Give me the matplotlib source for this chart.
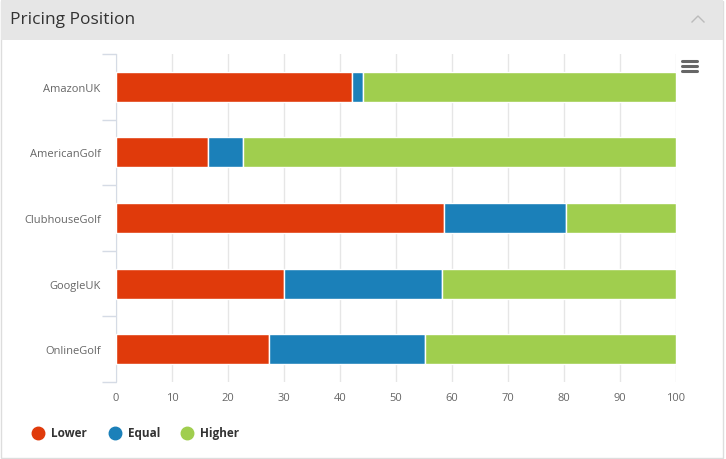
import matplotlib
matplotlib.use("Agg")
import matplotlib.pyplot as plt
from matplotlib.patches import Rectangle
from matplotlib.lines import Line2D

categories = ["AmazonUK", "AmericanGolf", "ClubhouseGolf", "GoogleUK", "OnlineGolf"]
lower = [42.1, 16.4, 58.6, 30.0, 27.3]
equal = [2.0, 6.3, 21.8, 28.2, 27.9]
higher = [55.9, 77.3, 19.6, 41.8, 44.8]
series_names = ["Lower", "Equal", "Higher"]
colors = ["#e03a0b", "#1b80b9", "#a0ce4e"]
xticks = [0, 10, 20, 30, 40, 50, 60, 70, 80, 90, 100]
title = "Pricing Position"

W, H = 726, 460
fig = plt.figure(figsize=(W / 100, H / 100), dpi=100)
fig.patch.set_facecolor("white")

# panel border and header band
fig.patches.append(Rectangle((1 / W, 1 / H), 722 / W, 457 / H, transform=fig.transFigure,
                             facecolor="white", edgecolor="#dddddd", linewidth=1, zorder=-10))
fig.patches.append(Rectangle((1 / W, (H - 41) / H), 722 / W, 40 / H, transform=fig.transFigure,
                             facecolor="#e6e6e6", edgecolor="none", zorder=-9))
fig.text(10 / W, 1 - 20 / H, title, fontsize=12.5, family="Open Sans", color="#333333",
         va="center", ha="left")
# chevron
fig.add_artist(Line2D([692 / W, 698 / W, 704 / W], [1 - 23 / H, 1 - 17 / H, 1 - 23 / H],
                      color="#bbbbbb", linewidth=1, transform=fig.transFigure))
# hamburger menu
for yy in (62, 67, 72):
    fig.add_artist(Line2D([682 / W, 697 / W], [1 - yy / H, 1 - yy / H], color="#666666",
                          linewidth=2.2, solid_capstyle="round", transform=fig.transFigure))

ax = fig.add_axes([116 / W, (H - 383) / H, 560 / W, 328 / H])
ax.set_facecolor("none")
ypos = list(range(len(categories)))
left = [0] * len(categories)
for name, vals, c in zip(series_names, [lower, equal, higher], colors):
    ax.barh(ypos, vals, left=left, height=0.46, color=c, edgecolor="white", linewidth=1,
            label=name, zorder=3)
    left = [l + v for l, v in zip(left, vals)]

ax.set_xlim(0, 100)
ax.set_ylim(len(categories) - 0.5, -0.5)
ax.set_xticks(xticks)
ax.set_xticklabels([str(t) for t in xticks], fontsize=8, color="#666666", family="Open Sans")
ax.tick_params(axis="x", length=0, pad=7)
ax.grid(axis="x", color="#e6e6e6", linewidth=1, zorder=0)

ax.set_yticks([i - 0.5 for i in range(len(categories) + 1)])
ax.set_yticklabels([])
ax.tick_params(axis="y", which="major", length=10, color="#d5dbe5", width=1)
ax.set_yticks(ypos, minor=True)
ax.set_yticklabels(categories, minor=True, fontsize=8, color="#666666", family="Open Sans")
ax.tick_params(axis="y", which="minor", length=0, pad=11)

for s in ["top", "right", "bottom"]:
    ax.spines[s].set_visible(False)
ax.spines["left"].set_color("#d5dbe5")

# legend
xs = [38, 115, 187]
for name, c, x in zip(series_names, colors, xs):
    fig.add_artist(Line2D([x / W], [1 - 434 / H], marker="o", markersize=9, color=c,
                          linestyle="none", transform=fig.transFigure))
    fig.text((x + 13) / W, 1 - 434 / H, name, fontsize=8.5, fontweight="bold",
             color="#333333", va="center", ha="left", family="Open Sans")

fig.savefig("out.png", dpi=100)
